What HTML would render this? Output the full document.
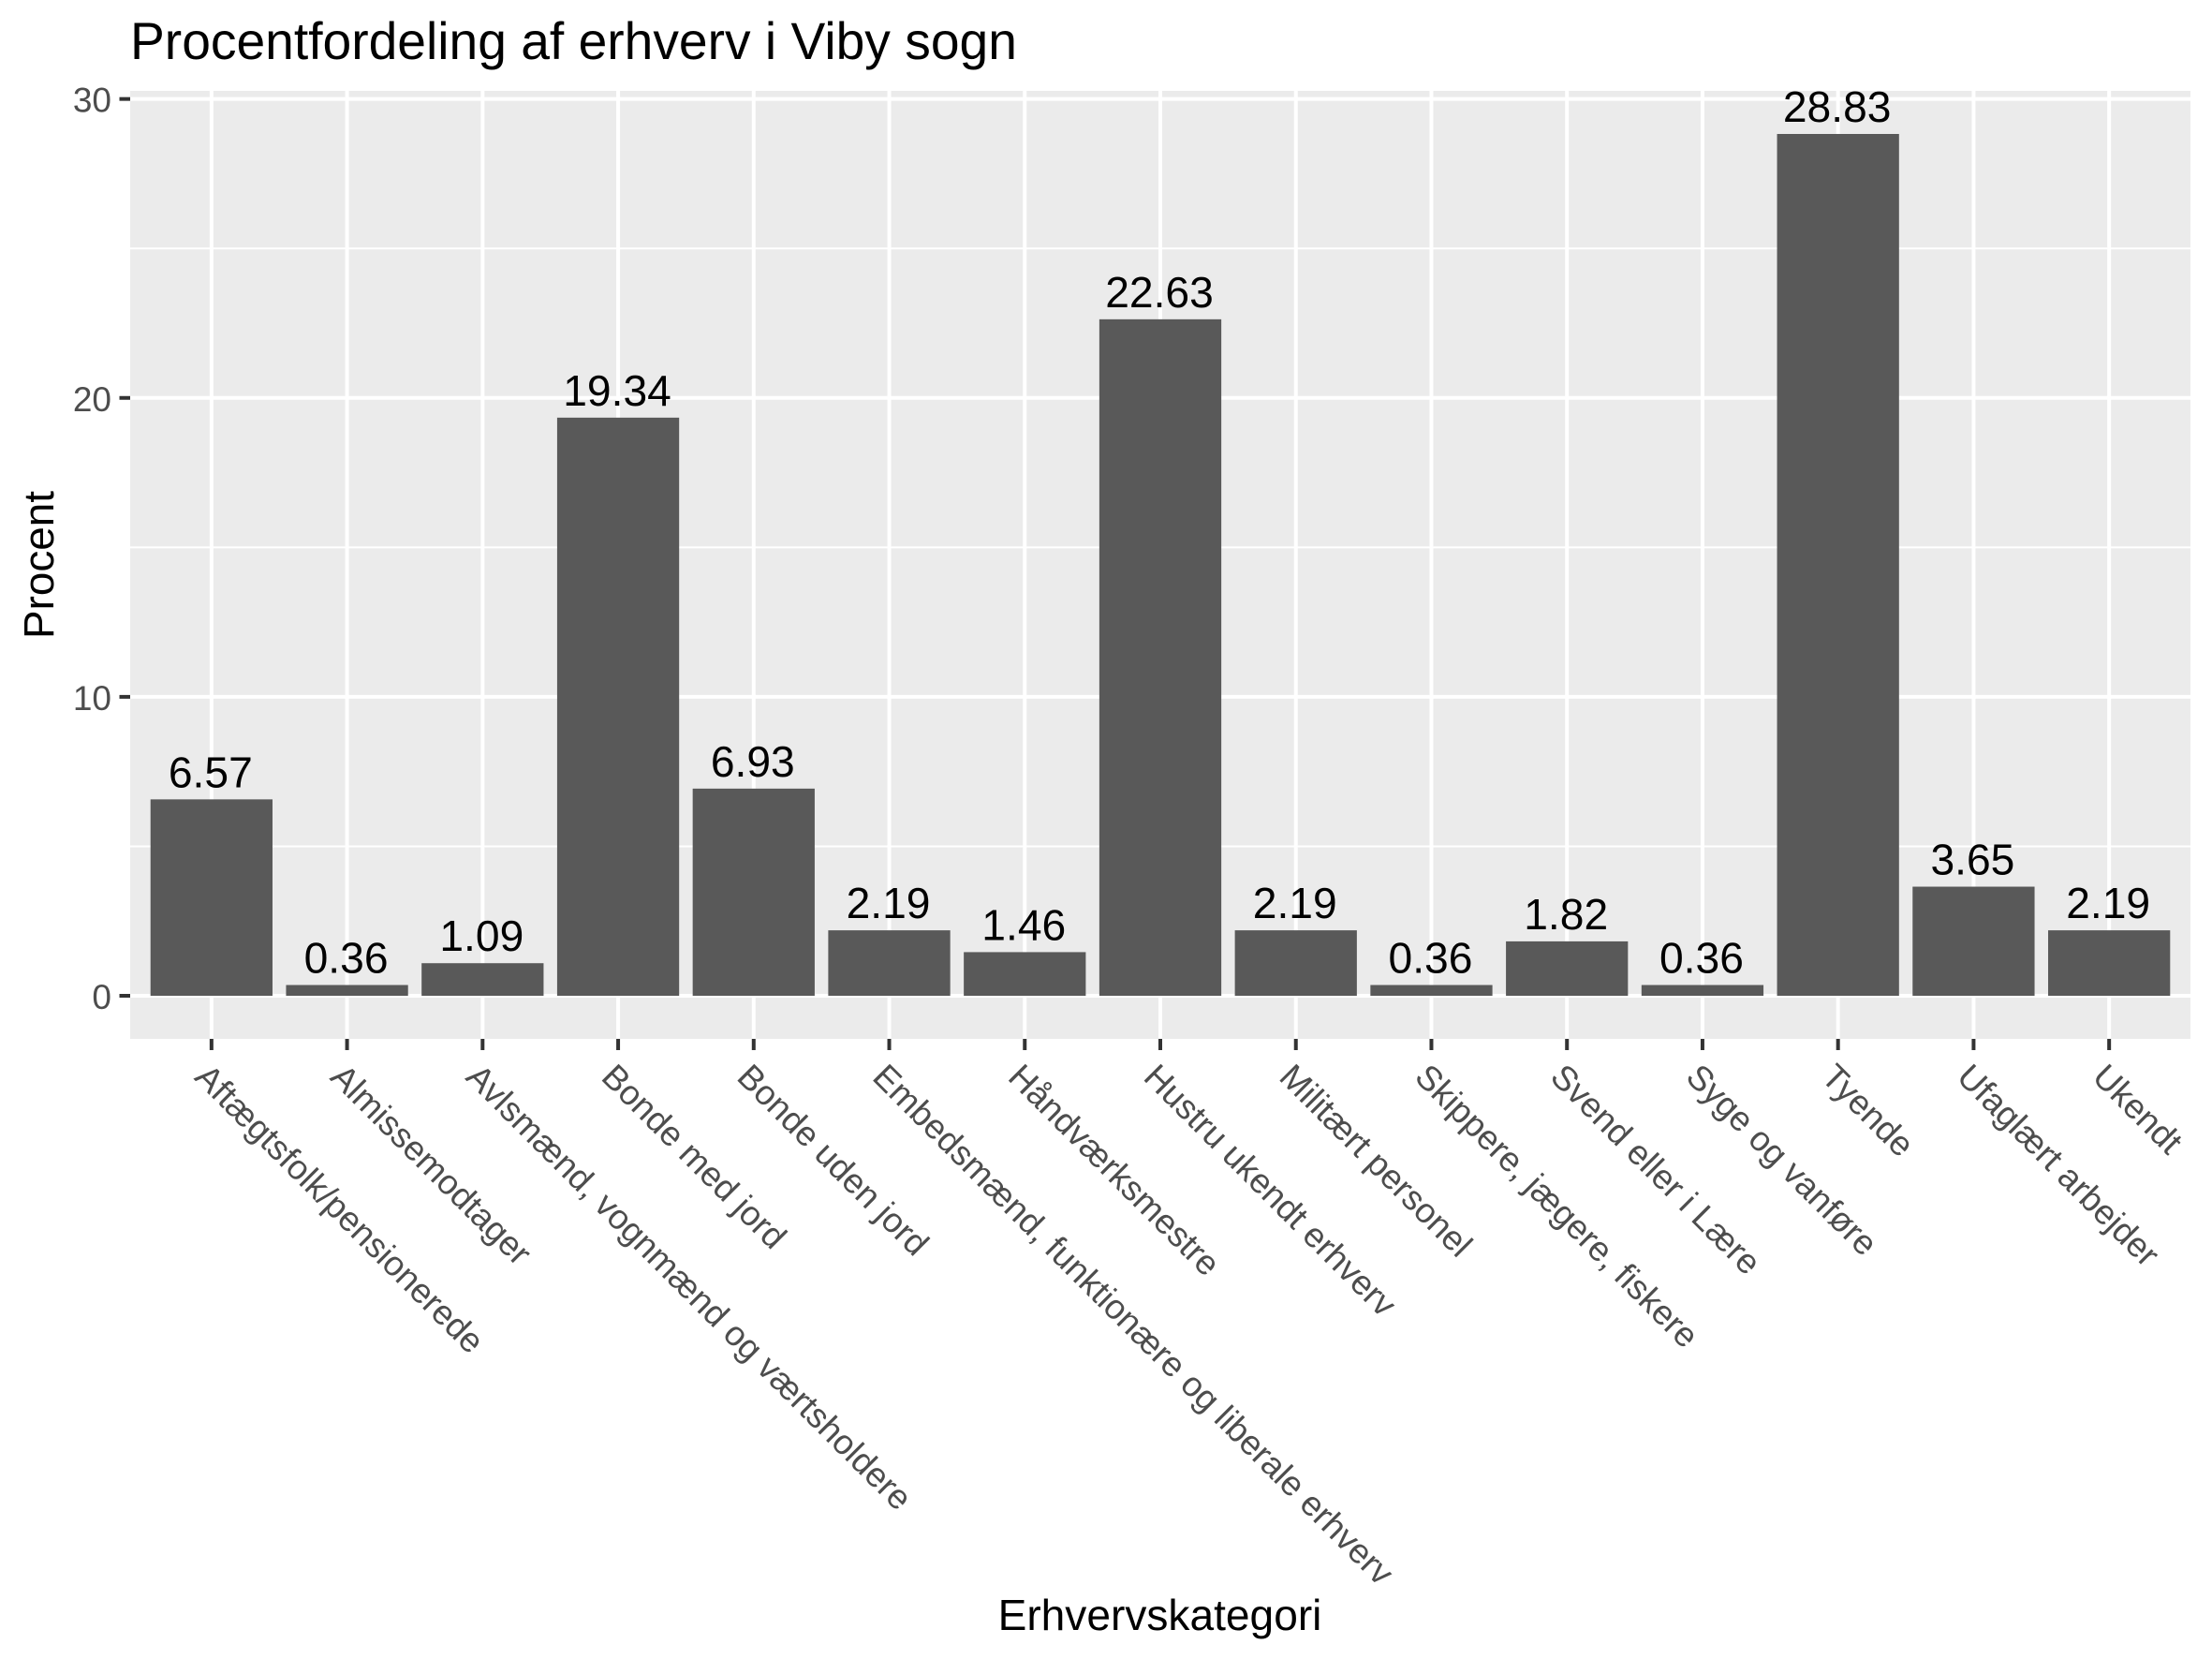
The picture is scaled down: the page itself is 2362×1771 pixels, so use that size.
<!DOCTYPE html>
<html lang="da">
<head>
<meta charset="utf-8">
<title>Procentfordeling af erhverv i Viby sogn</title>
<style>
html,body{margin:0;padding:0;background:#fff;}
svg{display:block;font-family:"Liberation Sans",Arial,sans-serif;}
</style>
</head>
<body>
<svg id="chart" xmlns="http://www.w3.org/2000/svg" width="2362" height="1771" viewBox="0 0 2362 1771">
  <rect x="0" y="0" width="2362" height="1771" fill="#ffffff"/>
  <rect x="139" y="97" width="2200" height="1012" fill="#ebebeb"/>
  <g id="grid"></g>
  <g id="bars"></g>
  <g id="values"></g>
  <g id="yaxis"></g>
  <g id="xaxis"></g>
  <text x="139" y="63" font-size="55.2" fill="#000000">Procentfordeling af erhverv i Viby sogn</text>
  <text x="1238.5" y="1740" font-size="46.1" text-anchor="middle" fill="#000000">Erhvervskategori</text>
  <text transform="translate(57,603) rotate(-90)" font-size="45.83" text-anchor="middle" fill="#000000">Procent</text>
</svg>
<script>
const categories = ["Aftægtsfolk/pensionerede","Almissemodtager","Avlsmænd, vognmænd og værtsholdere","Bonde med jord","Bonde uden jord","Embedsmænd, funktionære og liberale erhverv","Håndværksmestre","Hustru ukendt erhverv","Militært personel","Skippere, jægere, fiskere","Svend eller i Lære","Syge og vanføre","Tyende","Ufaglært arbejder","Ukendt"];
const percentValues = [6.57,0.36,1.09,19.34,6.93,2.19,1.46,22.63,2.19,0.36,1.82,0.36,28.83,3.65,2.19];
const yMajorTicks = [0,10,20,30];
const yMinorTicks = [5,15,25];

const NS = "http://www.w3.org/2000/svg";
const panel = {left:139, right:2339, top:97, bottom:1109};
const yDomain = [-1.4415, 30.2715];
const xDomain = [0.4, 15.6];
function xScale(i){ return panel.left + (i + 1 - xDomain[0]) / (xDomain[1] - xDomain[0]) * (panel.right - panel.left); }
function yScale(v){ return panel.bottom - (v - yDomain[0]) / (yDomain[1] - yDomain[0]) * (panel.bottom - panel.top); }
const band = (panel.right - panel.left) / (xDomain[1] - xDomain[0]);
const barWidth = band * 0.9;

function make(tag, attrs, parent, text){
  const el = document.createElementNS(NS, tag);
  for (const k in attrs) el.setAttribute(k, attrs[k]);
  if (text !== undefined) el.textContent = text;
  parent.appendChild(el);
  return el;
}
const grid = document.getElementById("grid");
const bars = document.getElementById("bars");
const valuesG = document.getElementById("values");
const yaxis = document.getElementById("yaxis");
const xaxis = document.getElementById("xaxis");

yMinorTicks.forEach(function(t){
  const el = make("line",{x1:panel.left,x2:panel.right,y1:yScale(t),y2:yScale(t),stroke:"#ffffff","stroke-width":2},grid);
  
  
});
yMajorTicks.forEach(function(t){
  const el = make("line",{x1:panel.left,x2:panel.right,y1:yScale(t),y2:yScale(t),stroke:"#ffffff","stroke-width":4},grid);
  
  
  const tick = make("line",{x1:panel.left-11.5,x2:panel.left,y1:yScale(t),y2:yScale(t),stroke:"#333333","stroke-width":4},yaxis);
  
  
  const label = make("text",{x:119,y:yScale(t)+14,"font-size":37,"text-anchor":"end",fill:"#4d4d4d"},yaxis,String(t));
  
  
});
categories.forEach(function(c,i){
  const x = xScale(i);
  const gl = make("line",{x1:x,x2:x,y1:panel.top,y2:panel.bottom,stroke:"#ffffff","stroke-width":4},grid);
  
  
  const tick = make("line",{x1:x,x2:x,y1:panel.bottom,y2:panel.bottom+12,stroke:"#333333","stroke-width":4},xaxis);
  
  
  const label = make("text",{transform:"translate("+(x-19.5)+",1151.5) rotate(45)","font-size":36.85,fill:"#4d4d4d"},xaxis,c);
  
  
});
percentValues.forEach(function(v,i){
  const x = xScale(i);
  const bar = make("rect",{x:x-barWidth/2,y:yScale(v),width:barWidth,height:yScale(0)-yScale(v),fill:"#595959"},bars);
  
  
  const val = make("text",{x:x-1,y:yScale(v)-13,"font-size":46.2,"text-anchor":"middle",fill:"#000000"},valuesG,v.toFixed(2));
  
  
});
</script>
</body>
</html>
